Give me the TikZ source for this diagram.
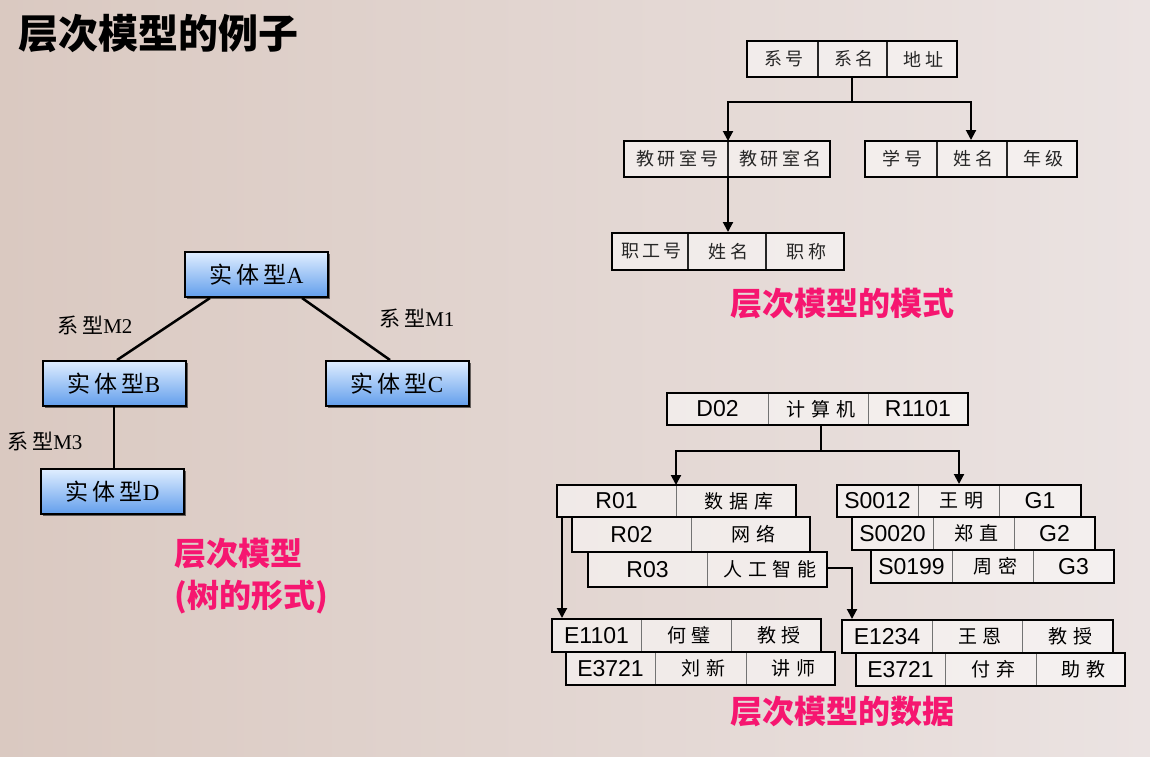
\documentclass[tikz,border=0pt]{standalone}
\usepackage{fontspec}
\setmainfont{Liberation Sans}
\newfontfamily\cjk{Noto Sans CJK SC}
\newfontfamily\cjkA[LetterSpace=18]{Noto Sans CJK SC}
\newfontfamily\cjkB[LetterSpace=18]{Noto Sans CJK SC}
\newfontfamily\cjkC[LetterSpace=30]{Noto Sans CJK SC}
\newfontfamily\lser{Liberation Serif}
\usetikzlibrary{arrows.meta,shadows,calc}

\definecolor{bgL}{RGB}{218,201,193}
\definecolor{bgR}{RGB}{235,227,226}
\definecolor{hotpink}{RGB}{246,22,112}
\definecolor{boxtop}{RGB}{224,238,255}
\definecolor{boxbot}{RGB}{98,158,236}

\tikzset{
  entity/.style={draw=black, line width=2pt, top color=boxtop, bottom color=boxbot,
    inner sep=0pt, minimum width=143pt, minimum height=45pt,
    font=\fontsize{23}{23}\selectfont,
    drop shadow={shadow xshift=2pt, shadow yshift=-2pt, opacity=0.55, fill=black}},
  treeline/.style={line width=2.5pt, black},
  rellabel/.style={inner sep=0pt, font=\fontsize{21}{21}\selectfont},
  rowbox/.style={draw=black, line width=2pt, fill=white, fill opacity=0.5,
    text opacity=1, inner sep=0pt},
  divline/.style={line width=1pt, black!55, shorten <=1pt, shorten >=1pt},
  schemadiv/.style={line width=1.5pt, black!85, shorten <=1pt, shorten >=1pt},
  link/.style={line width=2pt, black},
  arrowlink/.style={link, -{Triangle[width=10pt,length=10pt]}},
  lat/.style={inner sep=0pt, font=\fontsize{23}{23}\selectfont},
  zh/.style={inner sep=0pt, xshift=2.9pt, font=\cjkC\fontsize{19}{19}\selectfont},
  zhs/.style={inner sep=0pt, xshift=1.6pt, font=\cjkB\fontsize{18}{18}\selectfont, text=black!85},
  pinktitle/.style={inner sep=0pt, text=hotpink, font=\cjk\bfseries\fontsize{32}{42}\selectfont},
}

% outer frame of a record row: name, left, top, right, bottom
\newcommand\rowframe[5]{%
  \node[rowbox, minimum width={(#4)-(#2)}, minimum height={(#5)-(#3)}]
    (#1) at ({((#2)+(#4))/2},{((#3)+(#5))/2}) {};}

% three-field record: name, left, top, right, bottom, divider 1, divider 2
\newcommand\threerow[8][divline]{%
  \rowframe{#2}{#3}{#4}{#5}{#6}
  \draw[#1] (#7,#4) coordinate (#2-d1t) -- (#7,#6) coordinate (#2-d1b);
  \draw[#1] (#8,#4) -- (#8,#6);
  \coordinate (#2-c1) at ({((#3)+(#7))/2},{((#4)+(#6))/2});
  \coordinate (#2-c2) at ({((#7)+(#8))/2},{((#4)+(#6))/2});
  \coordinate (#2-c3) at ({((#8)+(#5))/2},{((#4)+(#6))/2});}

% two-field record: name, left, top, right, bottom, divider
\newcommand\tworow[7][divline]{%
  \rowframe{#2}{#3}{#4}{#5}{#6}
  \draw[#1] (#7,#4) coordinate (#2-d1t) -- (#7,#6) coordinate (#2-d1b);
  \coordinate (#2-c1) at ({((#3)+(#7))/2},{((#4)+(#6))/2});
  \coordinate (#2-c2) at ({((#7)+(#5))/2},{((#4)+(#6))/2});}

\begin{document}
\begin{tikzpicture}[x=1pt,y=-1pt]
\useasboundingbox (0,0) rectangle (1150,756);
\shade[left color=bgL, right color=bgR] (0,0) rectangle (1150,756);

% heading
\node[anchor=west, inner sep=0pt, font=\cjk\bfseries\fontsize{40}{40}\selectfont]
  (heading) at (18,34) {层次模型的例子};

% ---------- tree form ----------
\node[entity] (ea) at (256.5,274.5) {{\cjkA 实体型}{\lser A}};
\node[entity] (eb) at (114,383.5) {{\cjkA 实体型}{\lser B}};
\node[entity] (ec) at (397,383.5) {{\cjkA 实体型}{\lser C}};
\node[entity] (ed) at (112.5,491.5) {{\cjkA 实体型}{\lser D}};

\draw[treeline] ($(ea.south)+(-46.5,0)$) -- ($(eb.north)+(3,0)$);
\draw[treeline] ($(ea.south)+(45.5,0)$) -- ($(ec.north)+(-7,0)$);
\draw[treeline] (eb.south) -- (eb.south |- ed.north);

\node[rellabel] (m2) at (95,325) {{\cjkA 系型}{\lser M2}};
\node[rellabel] (m1) at (417,318) {{\cjkA 系型}{\lser M1}};
\node[rellabel] (m3) at (45,441) {{\cjkA 系型}{\lser M3}};

\node[pinktitle, anchor=north west, align=left] (treecap) at (174,538)
  {层次模型\\(树的形式)};

% ---------- schema ----------
\threerow[schemadiv]{sys}{747}{41}{957}{77}{818}{887}
\node[zhs] (sys-t1) at (sys-c1) {系号};
\node[zhs] (sys-t2) at (sys-c2) {系名};
\node[zhs] (sys-t3) at (sys-c3) {地址};

\tworow[schemadiv]{jys}{624}{141}{830}{177}{728}
\node[zhs] (jys-t1) at (jys-c1) {教研室号};
\node[zhs] (jys-t2) at (jys-c2) {教研室名};

\threerow[schemadiv]{xs}{865}{141}{1077}{177}{937}{1007}
\node[zhs] (xs-t1) at (xs-c1) {学号};
\node[zhs] (xs-t2) at (xs-c2) {姓名};
\node[zhs] (xs-t3) at (xs-c3) {年级};

\threerow[schemadiv]{zgh}{612}{233}{844}{270}{688}{766}
\node[zhs] (zgh-t1) at (zgh-c1) {职工号};
\node[zhs] (zgh-t2) at (zgh-c2) {姓名};
\node[zhs] (zgh-t3) at (zgh-c3) {职称};

\coordinate (sj) at (852,102);
\draw[link] (sys.south) -- (sj);
\draw[arrowlink] (sj) -| (jys-d1t);
\draw[arrowlink] (sj) -| (xs.north);
\draw[arrowlink] (jys-d1b) -- (jys-d1b |- zgh.north);

\node[pinktitle] (schemacap) at (842,303) {层次模型的模式};

% ---------- data ----------
\threerow{d02}{667}{393}{968}{425}{768}{868}
\node[lat] (d02-t1) at (d02-c1) {D02};
\node[zh] (d02-t2) at (d02-c2) {计算机};
\node[lat] (d02-t3) at (d02-c3) {R1101};

\tworow{r01}{557}{485}{796}{517}{676}
\node[lat] (r01-t1) at (r01-c1) {R01};
\node[zh] (r01-t2) at (r01-c2) {数据库};
\tworow{r02}{572}{517}{810}{552}{691}
\node[lat] (r02-t1) at (r02-c1) {R02};
\node[zh] (r02-t2) at (r02-c2) {网络};
\tworow{r03}{588}{552}{827}{587}{707}
\node[lat] (r03-t1) at (r03-c1) {R03};
\node[zh] (r03-t2) at (r03-c2) {人工智能};

\threerow{s12}{837}{485}{1081}{517}{918}{999}
\node[lat] (s12-t1) at (s12-c1) {S0012};
\node[zh] (s12-t2) at (s12-c2) {王明};
\node[lat] (s12-t3) at (s12-c3) {G1};
\threerow{s20}{852}{517}{1095}{550}{933}{1014}
\node[lat] (s20-t1) at (s20-c1) {S0020};
\node[zh] (s20-t2) at (s20-c2) {郑直};
\node[lat] (s20-t3) at (s20-c3) {G2};
\threerow{s199}{871}{550}{1114}{583}{952}{1033}
\node[lat] (s199-t1) at (s199-c1) {S0199};
\node[zh] (s199-t2) at (s199-c2) {周密};
\node[lat] (s199-t3) at (s199-c3) {G3};

\threerow{e1101}{552}{619}{821}{652}{641}{731}
\node[lat] (e1101-t1) at (e1101-c1) {E1101};
\node[zh] (e1101-t2) at (e1101-c2) {何璧};
\node[zh] (e1101-t3) at (e1101-c3) {教授};
\threerow{e3721a}{566}{652}{835}{685}{655}{746}
\node[lat] (e3721a-t1) at (e3721a-c1) {E3721};
\node[zh] (e3721a-t2) at (e3721a-c2) {刘新};
\node[zh] (e3721a-t3) at (e3721a-c3) {讲师};

\threerow{e1234}{842}{620}{1113}{653}{932}{1022}
\node[lat] (e1234-t1) at (e1234-c1) {E1234};
\node[zh] (e1234-t2) at (e1234-c2) {王恩};
\node[zh] (e1234-t3) at (e1234-c3) {教授};
\threerow{e3721b}{856}{653}{1125}{686}{945}{1036}
\node[lat] (e3721b-t1) at (e3721b-c1) {E3721};
\node[zh] (e3721b-t2) at (e3721b-c2) {付弃};
\node[zh] (e3721b-t3) at (e3721b-c3) {助教};

% parent-child links of the occurrence tree
\coordinate (dj) at (821,451);
\draw[link] (d02.south -| dj) -- (dj);
\draw[arrowlink] (dj) -| (r01-d1t);
\draw[arrowlink] (dj) -| (s12.north);
\coordinate (rl) at (562,517);
\draw[arrowlink] (rl) -- (rl |- e1101.north);
\coordinate (rr) at (852,568);
\draw[arrowlink] (r03.east |- rr) -| (rr |- e1234.north);

\node[pinktitle] (datacap) at (842,712) {层次模型的数据};
\end{tikzpicture}
\end{document}
